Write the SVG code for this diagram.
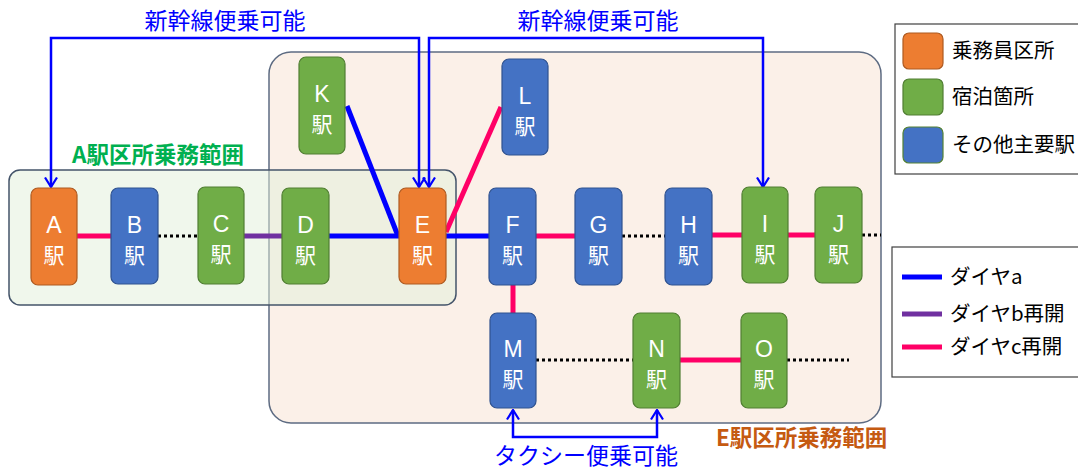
<svg xmlns="http://www.w3.org/2000/svg" width="1078" height="470" viewBox="0 0 1078 470">
<defs>
<marker id="arr" viewBox="-1 -1 12 14" refX="9.5" refY="6" markerWidth="12" markerHeight="14" markerUnits="userSpaceOnUse" orient="auto-start-reverse">
<path d="M0,0 L9.5,6 L0,12" fill="none" stroke="#0000ff" stroke-width="2.2"/>
</marker>
<style>
text{font-family:"Noto Sans CJK JP","Noto Sans",sans-serif;}
.nd{stroke-width:1.2;}
.or{fill:#ed7d31;stroke:#ae5a21;}
.gr{fill:#70ad47;stroke:#507e32;}
.bl{fill:#4472c4;stroke:#2f528f;}
.lbl{fill:#ffffff;font-size:21px;text-anchor:middle;}
.let{fill:#ffffff;font-size:23px;text-anchor:middle;font-family:"Liberation Sans",Arial,sans-serif;}
.ln{fill:none;stroke-width:5;}
.a{stroke:#0000ff;}
.b{stroke:#7030a0;}
.c{stroke:#ff0066;}
.dot{fill:none;stroke:#000;stroke-width:3;stroke-dasharray:3 3;}
.br{fill:none;stroke:#0000ff;stroke-width:2.5;marker-start:url(#arr);marker-end:url(#arr);}
.bt{fill:#0000ff;font-size:23px;text-anchor:middle;}
.lg{fill:#000;font-size:20.5px;}
.reg{font-size:22.5px;font-weight:bold;}
</style>
</defs>

<g id="regions">
<rect id="e-region" x="269" y="52" width="612" height="371" rx="22" fill="#fbf0e8" stroke="#5d6b82" stroke-width="1.5"/>
<rect id="a-region" x="9" y="170" width="447" height="135" rx="11" fill="#e2efd9" fill-opacity="0.5" stroke="#44546a" stroke-width="1.5"/>
<text class="reg" x="72" y="163" fill="#00b050">A駅区所乗務範囲</text>
<text class="reg" x="716" y="446" fill="#c55a11">E駅区所乗務範囲</text>
</g>

<g id="connectors">
<line class="ln c" x1="77" y1="236" x2="111" y2="236"/>
<line class="dot" x1="158" y1="236" x2="198" y2="236"/>
<line class="ln b" x1="244" y1="236" x2="282" y2="236"/>
<line class="ln a" x1="329" y1="236" x2="399" y2="236"/>
<line class="ln a" x1="347" y1="106" x2="398" y2="236"/>
<line class="ln c" x1="446" y1="232" x2="501" y2="107"/>
<line class="ln a" x1="446" y1="236" x2="489" y2="236"/>
<line class="ln c" x1="536" y1="236" x2="575" y2="236"/>
<line class="dot" x1="622" y1="236" x2="665" y2="236"/>
<line class="ln c" x1="712" y1="235" x2="742" y2="235"/>
<line class="ln c" x1="788" y1="235" x2="815" y2="235"/>
<line class="dot" x1="862" y1="235" x2="881" y2="235"/>
<line class="ln c" x1="513" y1="285" x2="513" y2="313"/>
<line class="dot" x1="536" y1="360" x2="633" y2="360"/>
<line class="ln c" x1="680" y1="360" x2="741" y2="360"/>
<line class="dot" x1="787" y1="360" x2="849" y2="360"/>
<path class="br" d="M51,187 V38 H419 V187"/>
<path class="br" d="M429,187 V38 H763 V187"/>
<path class="br" d="M513,410 V437 H657 V410"/>
<text class="bt" x="225" y="29">新幹線便乗可能</text>
<text class="bt" x="598" y="29">新幹線便乗可能</text>
<text class="bt" x="586" y="464" font-size="22.5">タクシー便乗可能</text>
</g>

<g id="node-A"><rect class="nd or" x="31" y="188" width="46" height="97" rx="7"/><text class="let" x="54" y="233">A</text><text class="lbl" x="54" y="262.5">駅</text></g>
<g id="node-B"><rect class="nd bl" x="111" y="188" width="47" height="96" rx="7"/><text class="let" x="134.5" y="233">B</text><text class="lbl" x="134.5" y="262.5">駅</text></g>
<g id="node-C"><rect class="nd gr" x="198" y="187" width="46" height="97" rx="7"/><text class="let" x="221" y="232">C</text><text class="lbl" x="221" y="261.5">駅</text></g>
<g id="node-D"><rect class="nd gr" x="282" y="188" width="47" height="96" rx="7"/><text class="let" x="305.5" y="233">D</text><text class="lbl" x="305.5" y="262.5">駅</text></g>
<g id="node-E"><rect class="nd or" x="399" y="188" width="47" height="96" rx="7"/><text class="let" x="422.5" y="233">E</text><text class="lbl" x="422.5" y="262.5">駅</text></g>
<g id="node-F"><rect class="nd bl" x="489" y="188" width="47" height="97" rx="7"/><text class="let" x="512.5" y="233">F</text><text class="lbl" x="512.5" y="262.5">駅</text></g>
<g id="node-G"><rect class="nd bl" x="575" y="188" width="47" height="97" rx="7"/><text class="let" x="598.5" y="233">G</text><text class="lbl" x="598.5" y="262.5">駅</text></g>
<g id="node-H"><rect class="nd bl" x="665" y="188" width="47" height="97" rx="7"/><text class="let" x="688.5" y="233">H</text><text class="lbl" x="688.5" y="262.5">駅</text></g>
<g id="node-I"><rect class="nd gr" x="742" y="187" width="46" height="96" rx="7"/><text class="let" x="765" y="232">I</text><text class="lbl" x="765" y="261.5">駅</text></g>
<g id="node-J"><rect class="nd gr" x="815" y="187" width="47" height="96" rx="7"/><text class="let" x="838.5" y="232">J</text><text class="lbl" x="838.5" y="261.5">駅</text></g>
<g id="node-K"><rect class="nd gr" x="299" y="57" width="46" height="97" rx="7"/><text class="let" x="322" y="102">K</text><text class="lbl" x="322" y="131.5">駅</text></g>
<g id="node-L"><rect class="nd bl" x="502" y="59" width="46" height="96" rx="7"/><text class="let" x="525" y="104">L</text><text class="lbl" x="525" y="133.5">駅</text></g>
<g id="node-M"><rect class="nd bl" x="490" y="313" width="46" height="95" rx="7"/><text class="let" x="513" y="357">M</text><text class="lbl" x="513" y="386.5">駅</text></g>
<g id="node-N"><rect class="nd gr" x="633" y="313" width="47" height="95" rx="7"/><text class="let" x="656.5" y="357">N</text><text class="lbl" x="656.5" y="386.5">駅</text></g>
<g id="node-O"><rect class="nd gr" x="741" y="313" width="46" height="95" rx="7"/><text class="let" x="764" y="357">O</text><text class="lbl" x="764" y="386.5">駅</text></g>

<g id="legend-nodes">
<rect x="895" y="24" width="200" height="150" fill="#fff" stroke="#404040" stroke-width="1.2"/>
<rect class="nd or" x="903" y="33" width="40" height="36" rx="6"/>
<text class="lg" x="952" y="58">乗務員区所</text>
<rect class="nd gr" x="903" y="79" width="40" height="36" rx="6"/>
<text class="lg" x="952" y="104">宿泊箇所</text>
<rect class="nd" x="903" y="127" width="40" height="36" rx="6" fill="#4472c4" stroke="#548235"/>
<text class="lg" x="952" y="152">その他主要駅</text>
</g>

<g id="legend-lines">
<rect x="892" y="247" width="200" height="130" fill="#fff" stroke="#404040" stroke-width="1.2"/>
<line class="ln a" x1="902" y1="277" x2="942" y2="277"/>
<text class="lg" x="950" y="284">ダイヤa</text>
<line class="ln b" x1="902" y1="314" x2="942" y2="314"/>
<text class="lg" x="950" y="321">ダイヤb再開</text>
<line class="ln c" x1="902" y1="347" x2="942" y2="347"/>
<text class="lg" x="950" y="354">ダイヤc再開</text>
</g>
</svg>
